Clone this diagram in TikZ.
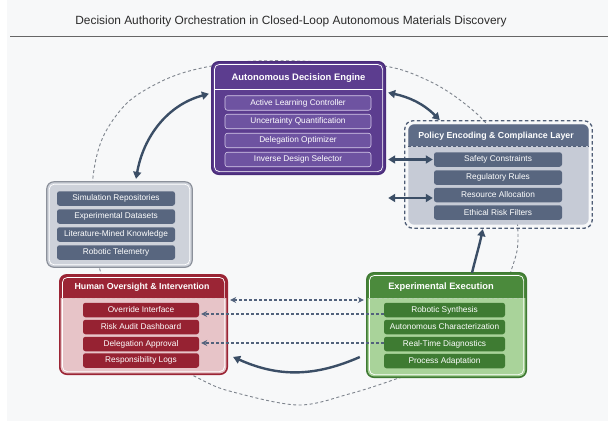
\documentclass[tikz,border=0pt]{standalone}
\usepackage{fontspec}
\setmainfont{Liberation Sans}
\usetikzlibrary{arrows.meta,calc}

\definecolor{bg}{HTML}{F7F8F9}
\definecolor{ink}{HTML}{2B2B2B}
\definecolor{loop}{HTML}{7D838C}
\definecolor{arrowc}{HTML}{3B4E66}
\definecolor{dasharr}{HTML}{52627C}
% purple engine
\definecolor{purfill}{HTML}{5C3D8F}
\definecolor{purline}{HTML}{4A2C7A}
\definecolor{puritem}{HTML}{6E53A1}
\definecolor{puritemline}{HTML}{D6CBEA}
% policy layer
\definecolor{polhead}{HTML}{5E6C87}
\definecolor{polbody}{HTML}{C6CBD6}
\definecolor{polline}{HTML}{4F5D76}
\definecolor{slateitem}{HTML}{58667F}
% data sources
\definecolor{datbody}{HTML}{CED2DA}
\definecolor{datline}{HTML}{8C919B}
% human oversight
\definecolor{redhead}{HTML}{9B2535}
\definecolor{redbody}{HTML}{E7C4C8}
\definecolor{reditem}{HTML}{962232}
% execution
\definecolor{grnhead}{HTML}{4B8A3C}
\definecolor{grnbody}{HTML}{A9D39A}
\definecolor{grnline}{HTML}{3F7A33}
\definecolor{grnitem}{HTML}{3E7B32}

\newcommand{\itemfont}{\fontsize{8.3}{9}\selectfont}
\newcommand{\headfont}{\fontsize{8.8}{10}\selectfont\bfseries}

\tikzset{
  panel/.style={rounded corners=7pt, inner sep=0pt},
  item/.style={rounded corners=2.5pt, inner sep=0pt, minimum height=14.5pt,
               text=white, font=\itemfont},
  headtext/.style={text=white, font=\headfont, inner sep=0pt},
  bigarrow/.style={draw=arrowc, line width=2.4pt,
                   arrows={-{Triangle[width=8pt,length=7pt]}}},
  bigboth/.style={draw=arrowc, line width=2.4pt,
                   arrows={{Triangle[width=8pt,length=7pt]}-{Triangle[width=8pt,length=7pt]}}},
  dasharrow/.style={draw=dasharr, line width=1.1pt, dash pattern=on 3pt off 2pt,
                    arrows={-{Stealth[width=6pt,length=6pt]}}},
  loopline/.style={draw=loop, line width=0.9pt, dash pattern=on 3pt off 2.5pt},
}

\begin{document}
\begin{tikzpicture}[x=1pt,y=-1pt]
\useasboundingbox (0,0) rectangle (608,421);
\fill[bg] (0,0) rectangle (608,421);
\fill[white] (0,0) rectangle (7,421);

% heading
\node[text=ink, font=\fontsize{11.9}{13}\selectfont, inner sep=0pt] (title) at (291,21)
  {Decision Authority Orchestration in Closed-Loop Autonomous Materials Discovery};
\draw[draw=black!60, line width=0.8pt] (10,36) -- (608,36);

% closed loop running behind all panels
\draw[loopline] plot[smooth cycle, tension=0.55] coordinates {
  (298,61) (384,66) (427,80) (460,100) (490,128) (510,170) (518,235) (512,268)
  (490,320) (440,362) (393,380) (349,394) (298,405) (233,392) (202,380)
  (150,350) (112,305) (100,270) (93,225) (93,177) (103,137) (127,103)
  (160,82) (193,70) (240,62)};

% ---------------- Autonomous Decision Engine ----------------
\node[panel, fill=purfill, minimum width=173pt, minimum height=112pt] (ade) at (298.5,118) {};
\draw[purline, line width=1.6pt, rounded corners=7pt] (ade.south west) rectangle (ade.north east);
\draw[white, line width=0.7pt, rounded corners=5pt]
  ([shift={(2.6pt,2.6pt)}]ade.south west) rectangle ([shift={(-2.6pt,-2.6pt)}]ade.north east);
\draw[white, line width=0.7pt] ([xshift=2.6pt]ade.west |- 0,89) -- ([xshift=-2.6pt]ade.east |- 0,89);
\node[headtext, font=\fontsize{9.4}{10}\selectfont\bfseries] (adeT) at (298.5,78.5) {Autonomous Decision Engine};
\foreach \n/\y/\t in {1/103/Active Learning Controller, 2/121.5/Uncertainty Quantification,
                      3/140.5/Delegation Optimizer, 4/159.5/Inverse Design Selector}
  \node[item, fill=puritem, draw=puritemline, line width=0.6pt, minimum width=146pt]
    (ade\n) at (298,\y) {\t};

% ---------------- Policy Encoding & Compliance Layer ----------------
\node[panel, minimum width=187pt, minimum height=107pt] (pol) at (498.5,174.5) {};
\fill[polbody, rounded corners=6pt]
  ([shift={(3.5pt,3.5pt)}]pol.south west) rectangle ([shift={(-3.5pt,-3.5pt)}]pol.north east);
\begin{scope}
  \clip[rounded corners=6pt]
    ([shift={(3.5pt,3.5pt)}]pol.south west) rectangle ([shift={(-3.5pt,-3.5pt)}]pol.north east);
  \fill[polhead] (pol.north west) rectangle (pol.east |- 0,146);
\end{scope}
\draw[polline, line width=1.3pt, dash pattern=on 3.5pt off 2.5pt, rounded corners=8pt]
  (pol.south west) rectangle (pol.north east);
\draw[polline, line width=0.9pt, dash pattern=on 3pt off 2pt]
  ([xshift=3.5pt]pol.west |- 0,146) -- ([xshift=-3.5pt]pol.east |- 0,146);
\node[headtext] (polT) at (496,136) {Policy Encoding \& Compliance Layer};
\foreach \n/\y/\t in {1/159.5/Safety Constraints, 2/177.5/Regulatory Rules,
                      3/195/Resource Allocation, 4/212.5/Ethical Risk Filters}
  \node[item, fill=slateitem, minimum width=128pt] (pol\n) at (498,\y) {\t};

% ---------------- knowledge sources ----------------
\node[panel, fill=datbody, minimum width=145pt, minimum height=85pt] (dat) at (119.5,224.5) {};
\draw[datline, line width=1.2pt, rounded corners=7pt] (dat.south west) rectangle (dat.north east);
\draw[white, line width=0.7pt, rounded corners=5pt]
  ([shift={(2.4pt,2.4pt)}]dat.south west) rectangle ([shift={(-2.4pt,-2.4pt)}]dat.north east);
\foreach \n/\y/\t in {1/198.5/Simulation Repositories, 2/216.5/Experimental Datasets,
                      3/234.5/Literature-Mined Knowledge, 4/252.5/Robotic Telemetry}
  \node[item, fill=slateitem, minimum width=118pt] (dat\n) at (116,\y) {\t};

% ---------------- Human Oversight & Intervention ----------------
\node[panel, fill=redbody, minimum width=167pt, minimum height=99pt] (hoi) at (143.5,324.5) {};
\begin{scope}
  \clip[rounded corners=7pt] (hoi.south west) rectangle (hoi.north east);
  \fill[redhead] (hoi.north west) rectangle (hoi.east |- 0,298);
\end{scope}
\draw[redhead, line width=1.6pt, rounded corners=7pt] (hoi.south west) rectangle (hoi.north east);
\draw[white, line width=0.7pt, rounded corners=5pt]
  ([shift={(2.6pt,2.6pt)}]hoi.south west) rectangle ([shift={(-2.6pt,-2.6pt)}]hoi.north east);
\draw[white!70!redhead, line width=0.8pt, dash pattern=on 3pt off 2pt]
  ([xshift=2.6pt]hoi.west |- 0,298) -- ([xshift=-2.6pt]hoi.east |- 0,298);
\node[headtext] (hoiT) at (142,287) {Human Oversight \& Intervention};
\foreach \n/\y/\t in {1/310/Override Interface, 2/327/Risk Audit Dashboard,
                      3/344/Delegation Approval, 4/360.5/Responsibility Logs}
  \node[item, fill=reditem, minimum width=116pt] (hoi\n) at (141,\y) {\t};

% ---------------- Experimental Execution ----------------
\node[panel, fill=grnbody, minimum width=159pt, minimum height=104pt] (exe) at (446.5,325) {};
\begin{scope}
  \clip[rounded corners=7pt] (exe.south west) rectangle (exe.north east);
  \fill[grnhead] (exe.north west) rectangle (exe.east |- 0,298);
\end{scope}
\draw[grnline, line width=1.6pt, rounded corners=7pt] (exe.south west) rectangle (exe.north east);
\draw[white, line width=0.7pt, rounded corners=5pt]
  ([shift={(2.6pt,2.6pt)}]exe.south west) rectangle ([shift={(-2.6pt,-2.6pt)}]exe.north east);
\draw[white!60!grnhead, line width=0.8pt, dash pattern=on 3pt off 2pt]
  ([xshift=2.6pt]exe.west |- 0,298) -- ([xshift=-2.6pt]exe.east |- 0,298);
\node[headtext, font=\fontsize{9.3}{10}\selectfont\bfseries] (exeT) at (441,287) {Experimental Execution};
\foreach \n/\y/\t in {1/310/Robotic Synthesis, 2/327/Autonomous Characterization,
                      3/344/Real-Time Diagnostics, 4/361/Process Adaptation}
  \node[item, fill=grnitem, minimum width=121pt] (exe\n) at (444.5,\y) {\t};

% ---------------- connectors ----------------
% knowledge sources <-> decision engine
\draw[bigboth, shorten <=3pt, shorten >=3pt]
  ([xshift=16pt]dat.north) to[out=80, in=195] ([yshift=25pt]ade.west);
% decision engine <-> policy layer
\draw[bigboth, shorten <=3pt, shorten >=1pt]
  ([yshift=26pt]ade.east) to[out=-12, in=135] ([xshift=-58pt]pol.north);
% decision engine <-> policy items
\coordinate (adeR1) at (ade.east |- pol1.west);
\coordinate (adeR3) at (ade.east |- pol3.west);
\draw[bigboth, shorten <=3pt, shorten >=1pt] (adeR1) -- (pol1.west);
\draw[bigboth, shorten <=3pt, shorten >=1pt] ([yshift=-3pt]adeR3) -- ([yshift=-3pt]pol3.west);
% execution feeds the policy layer
\draw[bigarrow, shorten >=1pt]
  ([xshift=25.5pt]exe.north) to[out=76, in=-102] ([xshift=-15.5pt]pol.south);
% execution returns to human oversight
\draw[bigarrow, shorten >=1pt]
  ([shift={(-7pt,-32pt)}]exe.west) to[bend left=24] ([shift={(5pt,-32pt)}]hoi.east);
% dashed exchanges between oversight and execution
\coordinate (hoiS) at (hoi.east |- 0,300);
\coordinate (exeS) at (exe.west |- 0,300);
\draw[dasharrow, arrows={{Stealth[width=6pt,length=6pt]}-{Stealth[width=6pt,length=6pt]}},
      shorten <=3pt, shorten >=3pt] (hoiS) -- (exeS);
\draw[dasharrow, shorten >=2pt] ([yshift=-4pt]exe1.west) -- ([yshift=-4pt]exe1.west -| hoi1.east);
\draw[dasharrow, shorten >=2pt] ([yshift=1pt]exe3.west) -- ([yshift=1pt]exe3.west -| hoi3.east);

\end{tikzpicture}
\end{document}
